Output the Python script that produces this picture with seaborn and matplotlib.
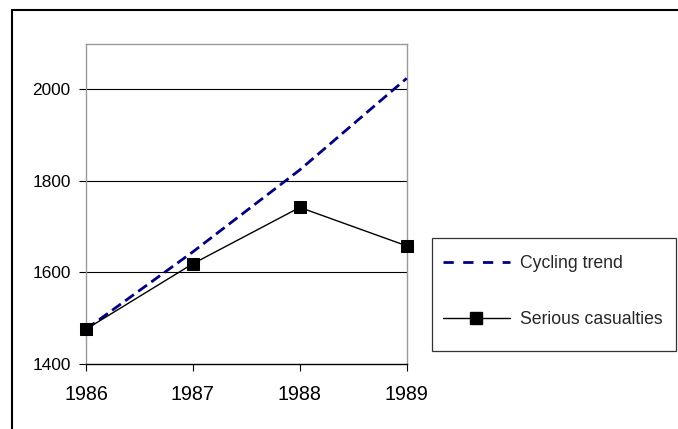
import matplotlib
matplotlib.use("Agg")
import matplotlib.pyplot as plt
import seaborn as sns
import pandas as pd
from matplotlib.lines import Line2D
from matplotlib.patches import Rectangle

years = [1986, 1987, 1988, 1989]
cycling_trend = [1476, 1645, 1824, 2024]
serious_casualties = [1476, 1619, 1742, 1658]
y_ticks = [1400, 1600, 1800, 2000]
series_labels = ["Cycling trend", "Serious casualties"]

sns.set_style("white")
plt.rcParams['font.family'] = ['Liberation Sans', 'DejaVu Sans']

df = pd.DataFrame({"year": years, "trend": cycling_trend, "casualties": serious_casualties})

fig = plt.figure(figsize=(6.78, 4.29), dpi=100)
ax = fig.add_axes([86/678, 1 - 364/429, (406.7 - 86)/678, (364 - 43.5)/429])

sns.lineplot(data=df, x="year", y="trend", ax=ax, color="#000080", linewidth=2.0,
             dashes=False, clip_on=False, zorder=3)
trend_line = ax.lines[-1]
trend_line.set_dashes((3.9, 1.9))
sns.lineplot(data=df, x="year", y="casualties", ax=ax, color="black", linewidth=1.0,
             marker="s", markersize=8.5, markeredgecolor="black", markerfacecolor="black",
             clip_on=False, zorder=4)

ax.set_xlim(1986, 1989)
ax.set_ylim(1400, 2100)
ax.set_xticks(years)
ax.set_xticklabels([str(y) for y in years])
ax.set_yticks(y_ticks)
ax.set_xlabel("")
ax.set_ylabel("")
ax.grid(False)
for yv in y_ticks[1:]:
    ax.axhline(yv, color="black", linewidth=0.8, zorder=1)

for side in ["left", "top", "right"]:
    ax.spines[side].set_color("#999999")
    ax.spines[side].set_linewidth(1.0)
ax.spines["bottom"].set_color("black")
ax.spines["bottom"].set_linewidth(1.0)

ax.tick_params(axis="both", which="major", colors="black",
               length=5, width=0.8, direction="out")
ax.tick_params(axis="y", pad=6, left=True, labelsize=12.4)
ax.tick_params(axis="x", pad=10, bottom=True, labelsize=14.2)

# legend
h1 = Line2D([], [], color="#000080", linewidth=2.0, dashes=(3.7, 3.4))
h2 = Line2D([], [], color="black", linewidth=1.0, marker="s", markersize=8.5)
leg = ax.legend([h1, h2], series_labels, loc="upper left",
                bbox_to_anchor=(442.7/678, 1 - 255/429), bbox_transform=fig.transFigure,
                frameon=False, borderpad=0, borderaxespad=0, fontsize=12.7,
                handlelength=3.8, handletextpad=0.57, labelspacing=2.2)

fig.patches.append(Rectangle((432.3/678, 1 - 350.7/429), (676 - 432.3)/678, (350.7 - 237.7)/429,
                             transform=fig.transFigure, fill=False, edgecolor="#333333",
                             linewidth=0.9))

# outer frame (top and left edges)
fig.lines.append(Line2D([12/678, 12/678], [0, 1 - 10/429], transform=fig.transFigure,
                        color="black", linewidth=1.5))
fig.lines.append(Line2D([12/678, 1], [1 - 10/429, 1 - 10/429], transform=fig.transFigure,
                        color="black", linewidth=1.5))

fig.savefig("out.png", dpi=100)
